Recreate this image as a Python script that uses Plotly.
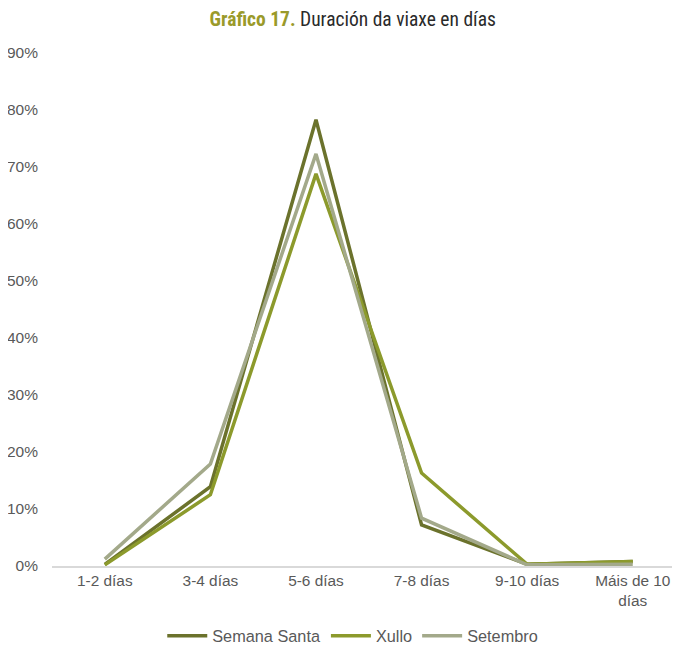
import plotly.graph_objects as go

categorias = ["1-2 días", "3-4 días", "5-6 días", "7-8 días", "9-10 días", "Máis de 10<br>días"]
semana_santa = [0.003, 0.139, 0.783, 0.072, 0.003, 0.008]
xullo = [0.002, 0.125, 0.688, 0.163, 0.003, 0.008]
setembro = [0.012, 0.179, 0.723, 0.084, 0.002, 0.003]

series = [
    ("Semana Santa", semana_santa, "#6b722c"),
    ("Xullo", xullo, "#8c9a2c"),
    ("Setembro", setembro, "#a3a98a"),
]

fig = go.Figure()
for nome, vals, cor in series:
    fig.add_trace(go.Scatter(
        x=categorias, y=vals, name=nome, mode="lines",
        line=dict(color=cor, width=3.5),
    ))

# a páxina ten 8px de marxe no body, así que todo vai desprazado 8px
fig.update_layout(
    width=680, height=647,
    margin=dict(l=44, r=0, t=45, b=89),
    paper_bgcolor="white", plot_bgcolor="white",
    font=dict(family="Liberation Sans", size=15, color="#595959"),
    title=dict(
        text="<b><span style='color:#9a9a2a'>Gráfico 17.</span></b> Duración da viaxe en días",
        x=0.507, xanchor="center", y=0.982, yanchor="middle",
        font=dict(family="Liberation Sans Narrow, Roboto Condensed, Arial Narrow, sans-serif",
                  size=19.5, color="#2a2a2a"),
    ),
    xaxis=dict(
        type="category", range=[-0.5, 5.523], showgrid=False, automargin=False,
        showline=True, linecolor="#d9d9d9", linewidth=1.5,
        ticks="", tickfont=dict(family="Liberation Sans", size=15.4, color="#595959"),
    ),
    yaxis=dict(
        range=[0, 0.9], dtick=0.1, tickformat=".0%", showgrid=False, automargin=False,
        zeroline=False, showline=False, ticks="",
        ticklabelstandoff=13, tickfont=dict(family="Liberation Sans", size=15.5, color="#595959"),
    ),
    legend=dict(
        orientation="h", x=0.507, xanchor="center", y=0.029, yanchor="middle",
        xref="container", yref="container",
        font=dict(family="Liberation Sans", size=16.3, color="#595959"), itemwidth=40,
    ),
)

fig.write_html("out.html")
